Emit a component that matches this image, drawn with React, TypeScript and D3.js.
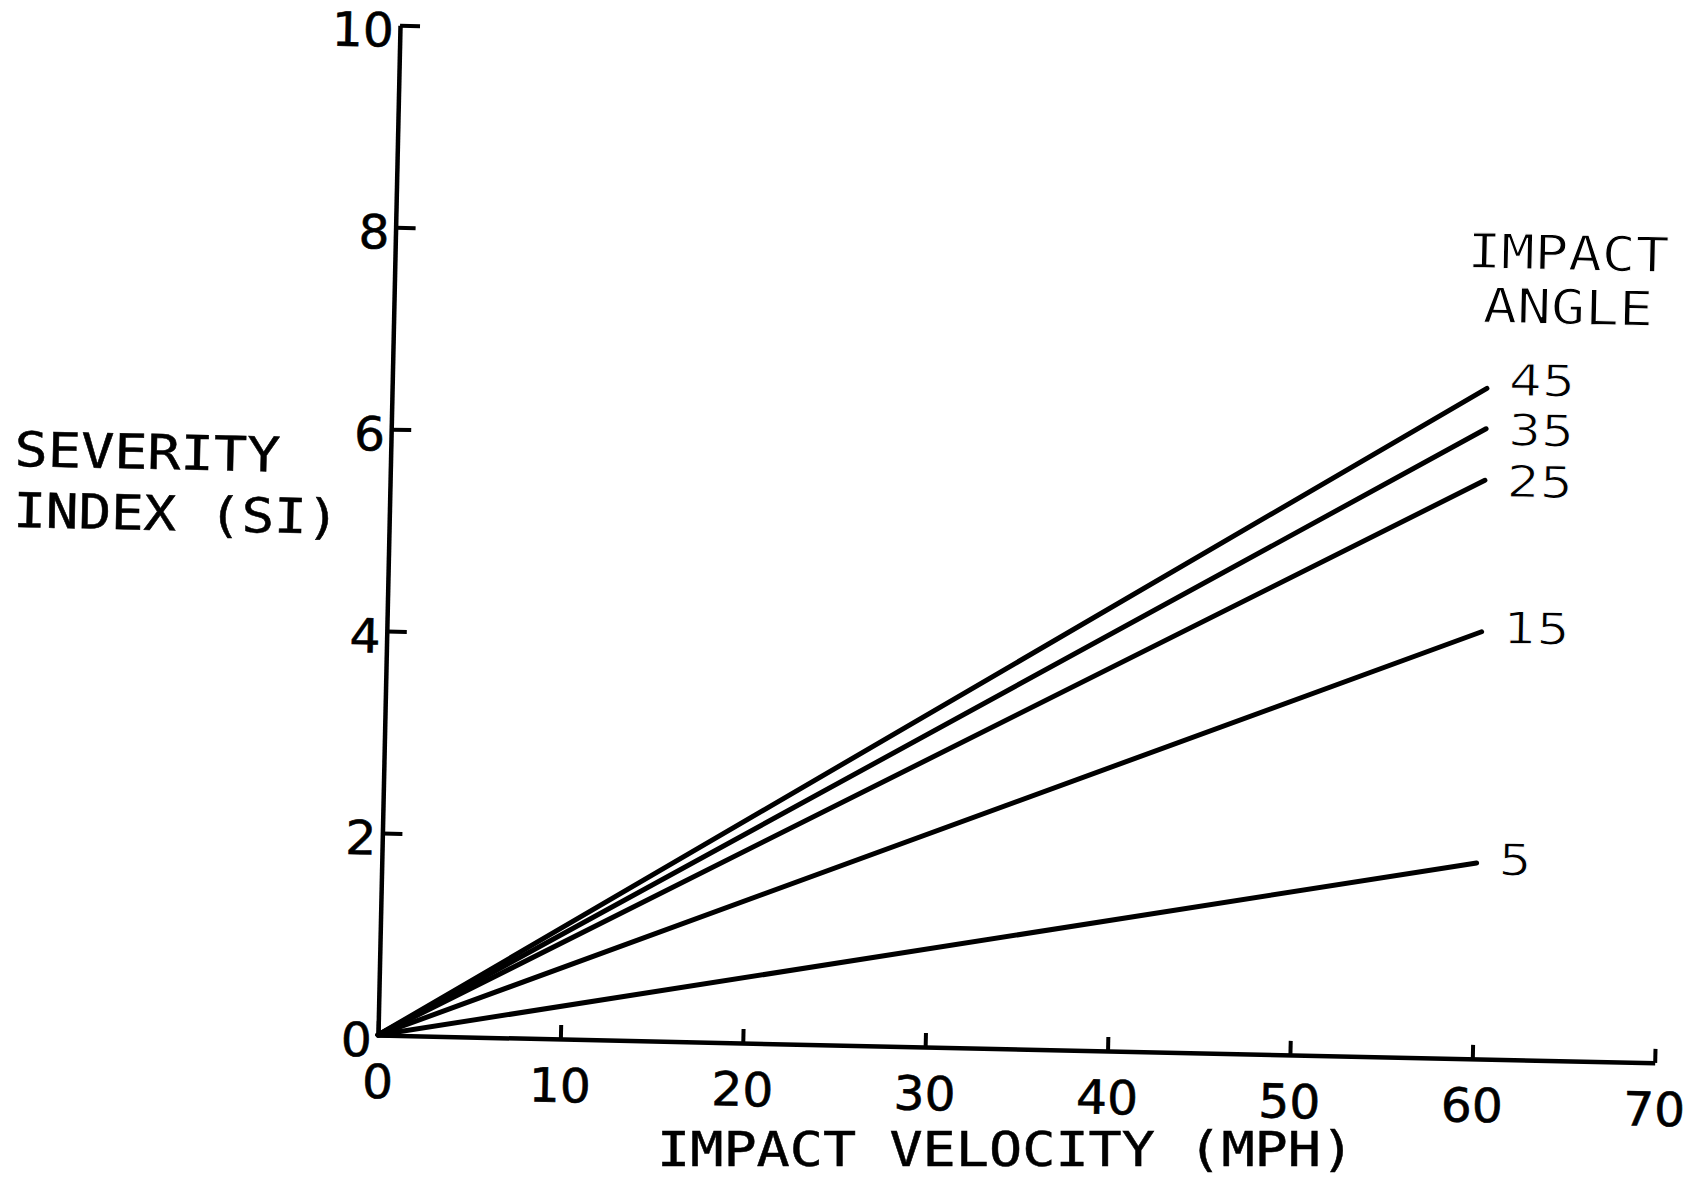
import React, { useEffect, useRef } from 'react';
import * as d3 from 'd3';

const velocityTicks = [0, 10, 20, 30, 40, 50, 60, 70];
const severityTicks = [0, 2, 4, 6, 8, 10];
const impactAngles = ['45', '35', '25', '15', '5'];
const lineStart = [0, 0];
const endVelocity = [60, 60, 60, 60, 60];
const siAtEnd = [6.64, 6.24, 5.73, 4.23, 1.94];

const FONT = '"DejaVu Sans Mono", monospace';
const DIGITS = '"DejaVu Sans", sans-serif';

export default function App() {
    const ref = useRef<SVGSVGElement>(null);

    useEffect(() => {
        drawChart();
    }, []);

    function drawChart() {
        const width = 1692, height = 1185;
        const svg = d3.select(ref.current);
        svg.selectAll('*').remove();
        svg.attr('width', width).attr('height', height);

        // the scan is tilted about 1.25 degrees, so the whole plot is rotated
        const g = svg.append('g')
            .attr('transform', 'translate(378,1035) rotate(1.25)');

        const x = d3.scaleLinear().domain([0, 70]).range([0, 1277]);
        const y = d3.scaleLinear().domain([0, 10]).range([0, -1010]);

        // Y axis, ticks pointing inwards
        const yAxis = g.append('g')
            .call(d3.axisLeft(y).tickValues(severityTicks).tickSizeInner(-20).tickSizeOuter(0).tickPadding(6));
        // X axis, ticks pointing up
        const xAxis = g.append('g')
            .call(d3.axisBottom(x).tickValues(velocityTicks).tickSizeInner(-14).tickSizeOuter(0));

        [yAxis, xAxis].forEach(a => {
            a.attr('font-family', DIGITS).attr('font-size', 47);
            a.select('.domain').attr('stroke', '#000').attr('stroke-width', 4.5);
            a.selectAll('.tick line').attr('stroke', '#000').attr('stroke-width', 4);
            a.selectAll('.tick text')
                .attr('fill', '#000')
                .attr('stroke', '#000')
                .attr('stroke-width', 0.6)
                .attr('textLength', (d: any) => String(d).length * 31)
                .attr('lengthAdjust', 'spacingAndGlyphs');
        });
        yAxis.selectAll('.tick text').attr('dy', '0.45em');
        xAxis.selectAll('.tick text').attr('y', 63).attr('dy', 0);

        // severity lines, one per impact angle
        const line = d3.line<number[]>()
            .x(d => x(d[0]))
            .y(d => y(d[1]));

        const series = impactAngles.map((a, i) => ({
            angle: a,
            points: [lineStart, [endVelocity[i], siAtEnd[i]]]
        }));

        g.selectAll('path.si')
            .data(series)
            .enter()
            .append('path')
            .attr('class', 'si')
            .attr('d', d => line(d.points))
            .attr('fill', 'none')
            .attr('stroke', '#000')
            .attr('stroke-width', 5)
            .attr('stroke-linecap', 'round');

        // angle labels at the line ends
        const labelNudge = [-9.5, 0, 0, -5, -4.5];
        g.selectAll('text.angle')
            .data(series)
            .enter()
            .append('text')
            .attr('class', 'angle')
            .attr('x', (d, i) => x(endVelocity[i]) + 22)
            .attr('y', (d, i) => y(siAtEnd[i]) + labelNudge[i] + 16)
            .attr('font-family', DIGITS)
            .attr('font-size', 44)
            .attr('fill', '#000')
            .attr('stroke', '#fff')
            .attr('stroke-width', 1)
            .attr('textLength', d => d.angle.length * 33)
            .attr('lengthAdjust', 'spacingAndGlyphs')
            .text(d => d.angle);

        const title = (parent: any, txt: string, tx: number, ty: number, anchor: string, adv: number, thin: boolean) => {
            parent.append('text')
                .attr('x', tx)
                .attr('y', ty)
                .attr('text-anchor', anchor)
                .attr('font-family', FONT)
                .attr('font-size', 48)
                .attr('fill', '#000')
                .attr('stroke', thin ? '#fff' : '#000')
                .attr('stroke-width', thin ? 1 : 0.5)
                .attr('textLength', txt.length * adv)
                .attr('lengthAdjust', 'spacingAndGlyphs')
                .text(txt);
        };

        title(g, 'SEVERITY', -376, -561, 'start', 33.2, false);
        title(g, 'INDEX (SI)', -376, -500, 'start', 32.6, false);
        title(g, 'IMPACT', 1173, -791, 'middle', 33.6, true);
        title(g, 'ANGLE', 1174, -737, 'middle', 34, true);
        // kept level so it stays inside the page
        title(svg, 'IMPACT VELOCITY (MPH)', 657, 1166, 'start', 33.2, false);
    }

    return (
        <svg ref={ref} style={{ position: 'absolute', left: 0, top: 0, background: '#fff' }} />
    );
}
